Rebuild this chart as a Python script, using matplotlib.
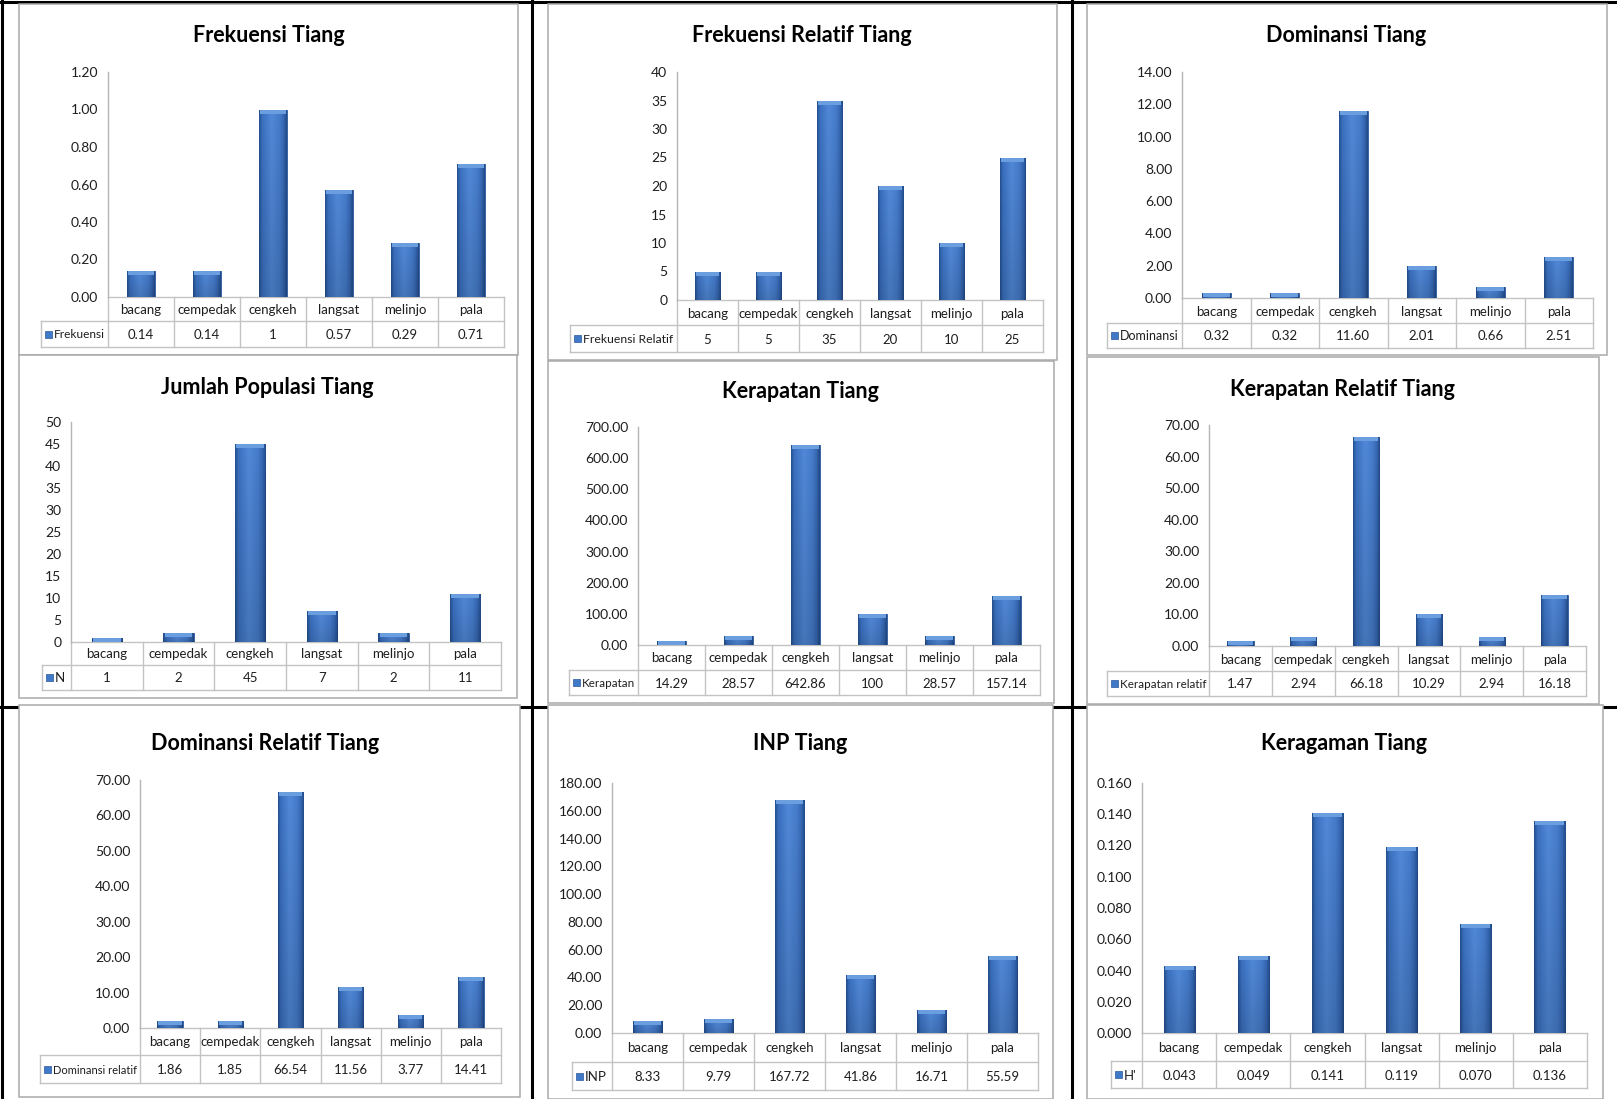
import numpy as np
import matplotlib.pyplot as plt
from matplotlib.transforms import blended_transform_factory
from matplotlib.patches import Rectangle
from matplotlib.colors import to_rgb

plt.rcParams['font.family'] = ['Lato', 'DejaVu Sans']

W, H = 1617, 1099

# data
species = ['bacang', 'cempedak', 'cengkeh', 'langsat', 'melinjo', 'pala']

frekuensi = [0.14, 0.14, 1, 0.57, 0.29, 0.71]
frekuensi_relatif = [5, 5, 35, 20, 10, 25]
dominansi = [0.32, 0.32, 11.60, 2.01, 0.66, 2.51]
populasi = [1, 2, 45, 7, 2, 11]
kerapatan = [14.29, 28.57, 642.86, 100, 28.57, 157.14]
kerapatan_relatif = [1.47, 2.94, 66.18, 10.29, 2.94, 16.18]
dominansi_relatif = [1.86, 1.85, 66.54, 11.56, 3.77, 14.41]
inp = [8.33, 9.79, 167.72, 41.86, 16.71, 55.59]
keragaman = [0.043, 0.049, 0.141, 0.119, 0.070, 0.136]

# title, series name, values, ymax, step, tick format, table format
charts = [
    ('Frekuensi Tiang', 'Frekuensi', frekuensi, 1.2, 0.2, '{:.2f}', '{:g}'),
    ('Frekuensi Relatif Tiang', 'Frekuensi Relatif', frekuensi_relatif, 40, 5, '{:.0f}', '{:g}'),
    ('Dominansi Tiang', 'Dominansi', dominansi, 14, 2, '{:.2f}', '{:.2f}'),
    ('Jumlah Populasi Tiang', 'N', populasi, 50, 5, '{:.0f}', '{:g}'),
    ('Kerapatan Tiang', 'Kerapatan', kerapatan, 700, 100, '{:.2f}', '{:g}'),
    ('Kerapatan Relatif Tiang', 'Kerapatan relatif', kerapatan_relatif, 70, 10, '{:.2f}', '{:.2f}'),
    ('Dominansi Relatif Tiang', 'Dominansi relatif', dominansi_relatif, 70, 10, '{:.2f}', '{:.2f}'),
    ('INP Tiang', 'INP', inp, 180, 20, '{:.2f}', '{:.2f}'),
    ('Keragaman Tiang', "H'", keragaman, 0.16, 0.02, '{:.3f}', '{:.3f}'),
]

# layout in pixels: box, title centre, plot area (l, t, r, b), table row bottoms, legend column left
layout = [
    ((19, 4, 518, 355), (269, 35), (108, 72, 504, 297), (321, 347), 41),
    ((548, 4, 1057, 360), (802, 35), (677, 72, 1043, 300), (325, 352), 570),
    ((1087, 4, 1607, 355), (1346, 35), (1182, 72, 1593, 298), (323, 348), 1107),
    ((19, 355, 517, 698), (267, 387), (71, 422, 501, 642), (665, 690), 42),
    ((548, 361, 1054, 703), (800, 392), (638, 427, 1040, 645), (670, 695), 569),
    ((1087, 357, 1599, 704), (1342, 389), (1209, 425, 1586, 646), (671, 696), 1107),
    ((19, 705, 520, 1097), (265, 743), (140, 780, 501, 1028), (1055, 1083), 40),
    ((548, 705, 1053, 1099), (800, 743), (612, 783, 1038, 1033), (1062, 1090), 572),
    ((1087, 705, 1603, 1099), (1344, 743), (1142, 783, 1587, 1033), (1061, 1088), 1111),
]

# bar shading image (horizontal bevel, a bit darker toward the bottom)
stops = [(0.0, '#24518f'), (0.1, '#3a6fbf'), (0.45, '#5189d8'),
         (0.75, '#457bca'), (0.9, '#3566b1'), (1.0, '#224c8a')]
tx = np.linspace(0, 1, 40)
prof = np.stack([np.interp(tx, [s[0] for s in stops], [to_rgb(s[1])[k] for s in stops]) for k in range(3)], axis=-1)
ty = np.linspace(0.86, 1.0, 60)[:, None, None]
BAR_IMG = np.clip(prof[None, :, :] * ty, 0, 1)

GRID = '#c3c3c3'
TXT = '#1e1e1e'

fig = plt.figure(figsize=(W / 100, H / 100), dpi=100)
renderer = fig.canvas.get_renderer()
bg = fig.add_axes([0, 0, 1, 1])
bg.set_xlim(0, W)
bg.set_ylim(H, 0)
bg.axis('off')

# black frame lines of the page table
for x in (2, 532, 1072):
    bg.plot([x, x], [0, H], color='black', lw=2.2, zorder=1)
for y in (2, 707):
    bg.plot([0, W], [y, y], color='black', lw=2.2, zorder=1)

for (title, name, vals, ymax, step, tfmt, vfmt), (box, tpos, area, rows, leg) in zip(charts, layout):
    bx0, by0, bx1, by1 = box
    bg.add_patch(Rectangle((bx0, by0), bx1 - bx0, by1 - by0, facecolor='white',
                           edgecolor='#a9a9a9', lw=1.1, zorder=2))
    bg.text(tpos[0], tpos[1], title, ha='center', va='center', fontsize=15.5,
            fontweight='bold', color='black', zorder=5)

    l, t, r, b = area
    ax = fig.add_axes([l / W, 1 - b / H, (r - l) / W, (b - t) / H])
    ax.set_zorder(3)
    ax.patch.set_visible(False)

    x = np.arange(len(species))
    bars = ax.bar(x, vals, width=0.42, color='#4079c8', edgecolor='#2a579a', lw=0.6, zorder=2)
    for bar in bars:
        im = ax.imshow(BAR_IMG, extent=(bar.get_x(), bar.get_x() + bar.get_width(), 0, bar.get_height()),
                       aspect='auto', origin='lower', interpolation='bilinear', zorder=2)
        im.set_clip_path(bar)
    cap = ymax * 4 / (b - t)
    ax.bar(x, [min(cap, v) for v in vals], bottom=[max(v - cap, 0) for v in vals], width=0.39,
           color='#6a9edf', lw=0, zorder=3)

    ax.set_xlim(-0.5, len(species) - 0.5)
    ax.set_ylim(0, ymax)
    ticks = np.arange(0, ymax + step / 2, step)
    ax.set_yticks(ticks)
    ax.set_yticklabels([tfmt.format(v) for v in ticks])
    ax.tick_params(axis='y', length=0, pad=7, labelsize=10, labelcolor=TXT)
    ax.set_xticks([])
    for s in ('top', 'right', 'bottom'):
        ax.spines[s].set_visible(False)
    ax.spines['left'].set_color('#b5b5b5')
    ax.spines['left'].set_linewidth(1)

    # data table below the plot
    cat_b, dat_b = rows
    tr = blended_transform_factory(ax.transData, bg.transData)
    kw = dict(color=GRID, lw=1, zorder=4)
    bg.plot([l, r], [b, b], **kw)
    bg.plot([leg, r], [cat_b, cat_b], **kw)
    bg.plot([leg, r], [dat_b, dat_b], **kw)
    bg.plot([leg, leg], [cat_b, dat_b], **kw)
    bg.plot([l, l], [b, dat_b], **kw)
    for xe in x + 0.5:
        ax.plot([xe, xe], [b, dat_b], transform=tr, clip_on=False, **kw)
    for xi, sp, v in zip(x, species, vals):
        ax.text(xi, (b + cat_b) / 2 + 1, sp, transform=tr, ha='center', va='center',
                fontsize=9.5, color=TXT)
        ax.text(xi, (cat_b + dat_b) / 2 + 1, vfmt.format(v), transform=tr, ha='center',
                va='center', fontsize=9.5, color=TXT)
    ym = (cat_b + dat_b) / 2
    bg.add_patch(Rectangle((leg + 4, ym - 3.5), 7, 7, facecolor='#4079c8',
                           edgecolor='#2a579a', lw=0.5, zorder=5))
    lab = bg.text(leg + 13, ym + 1, name, ha='left', va='center', fontsize=9.5, color=TXT, zorder=5)
    room = l - leg - 16
    wid = lab.get_window_extent(renderer).width
    if wid > room:
        lab.set_fontsize(9.5 * room / wid)

fig.savefig('out.png', dpi=100)
